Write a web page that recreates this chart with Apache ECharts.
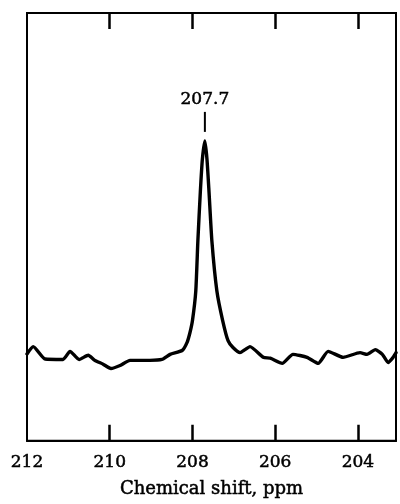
<!DOCTYPE html>
<html>
<head>
<meta charset="utf-8">
<title>Chemical shift spectrum</title>
<script src="https://cdn.jsdelivr.net/npm/echarts@6/dist/echarts.min.js"></script>
<style>
  html, body { margin: 0; padding: 0; background: #fff; }
  #chart { width: 400px; height: 504px; }
</style>
</head>
<body>
<div id="chart"></div>
<script>
// Spectrum trace: chemical shift (ppm) and relative intensity
const shift = [
  212.0, 211.85, 211.56, 211.13, 210.96, 210.74, 210.52, 210.36, 210.16, 209.97,
  209.75, 209.51, 209.03, 208.74, 208.54, 208.25, 208.13, 208.06, 208.0, 207.92,
  207.87, 207.81, 207.76, 207.7, 207.65, 207.6, 207.53, 207.41, 207.27, 207.14,
  207.02, 206.85, 206.73, 206.61, 206.29, 206.12, 205.83, 205.57, 205.23, 204.96,
  204.72, 204.36, 203.95, 203.78, 203.58, 203.41, 203.27, 203.15, 203.08
];
const intensity = [
  20.3, 22.0, 19.1, 19.0, 20.9, 19.0, 20.0, 18.8, 17.9, 16.9,
  17.6, 18.8, 18.8, 19.0, 20.2, 21.1, 23.0, 25.3, 28.1, 35.0,
  46.6, 58.2, 65.9, 70.1, 65.9, 58.2, 46.6, 35.0, 28.1, 23.4,
  21.8, 20.6, 21.3, 22.0, 19.5, 19.3, 18.1, 20.2, 19.5, 18.1,
  20.9, 19.5, 20.6, 20.2, 21.3, 20.2, 18.3, 19.5, 20.6
];

// Axis range and tick positions
const shiftMin = 203.08;
const shiftMax = 212;
const tickValues = [204, 206, 208, 210];
const labelValues = [204, 206, 208, 210, 212];
const axisTitle = 'Chemical shift, ppm';

const serif = 'DejaVu Serif';
// slight outline gives the printed, heavier look of the type
const inkText = { fontFamily: serif, color: '#000', textBorderColor: '#000', textBorderWidth: 0.5 };

// Peak position taken from the trace itself
let peakIdx = 0;
intensity.forEach((v, i) => { if (v > intensity[peakIdx]) peakIdx = i; });
const peakShift = shift[peakIdx];
const peakValue = intensity[peakIdx];

const chart = echarts.init(document.getElementById('chart'), null, { renderer: 'canvas' });

const baseAxis = {
  type: 'value',
  min: shiftMin,
  max: shiftMax,
  inverse: true,
  splitLine: { show: false },
  axisLine: { show: true, lineStyle: { color: '#000', width: 2 } },
  axisTick: {
    show: true,
    inside: true,
    length: 16,
    customValues: tickValues,
    lineStyle: { color: '#000', width: 2.5 }
  }
};

chart.setOption({
  animation: false,
  backgroundColor: '#fff',
  grid: {
    left: 27, right: 4, top: 13, bottom: 60,
    show: true,
    borderColor: '#000',
    borderWidth: 2,
    backgroundColor: 'transparent'
  },
  xAxis: [
    Object.assign({}, baseAxis, {
      position: 'bottom',
      name: axisTitle,
      nameLocation: 'middle',
      nameGap: 40,
      nameTextStyle: Object.assign({ fontSize: 18 }, inkText),
      axisLabel: Object.assign({
        show: true,
        customValues: labelValues,
        margin: 13,
        fontSize: 17
      }, inkText)
    }),
    Object.assign({}, baseAxis, {
      position: 'top',
      axisLabel: { show: false }
    })
  ],
  yAxis: {
    type: 'value',
    min: 0,
    max: 100,
    show: false
  },
  series: [{
    type: 'line',
    xAxisIndex: 0,
    data: shift.map((s, i) => [s, intensity[i]]),
    showSymbol: false,
    smooth: 0.18,
    lineStyle: { color: '#000', width: 3.4, join: 'round', cap: 'round' },
    markPoint: {
      silent: true,
      symbol: 'rect',
      symbolSize: [2, 20],
      symbolOffset: [0, -19],
      itemStyle: { color: '#000' },
      label: Object.assign({
        show: true,
        position: 'top',
        distance: 4,
        fontSize: 17,
        formatter: () => peakShift.toFixed(1)
      }, inkText),
      data: [{ coord: [peakShift, peakValue] }]
    }
  }]
});
</script>
</body>
</html>
